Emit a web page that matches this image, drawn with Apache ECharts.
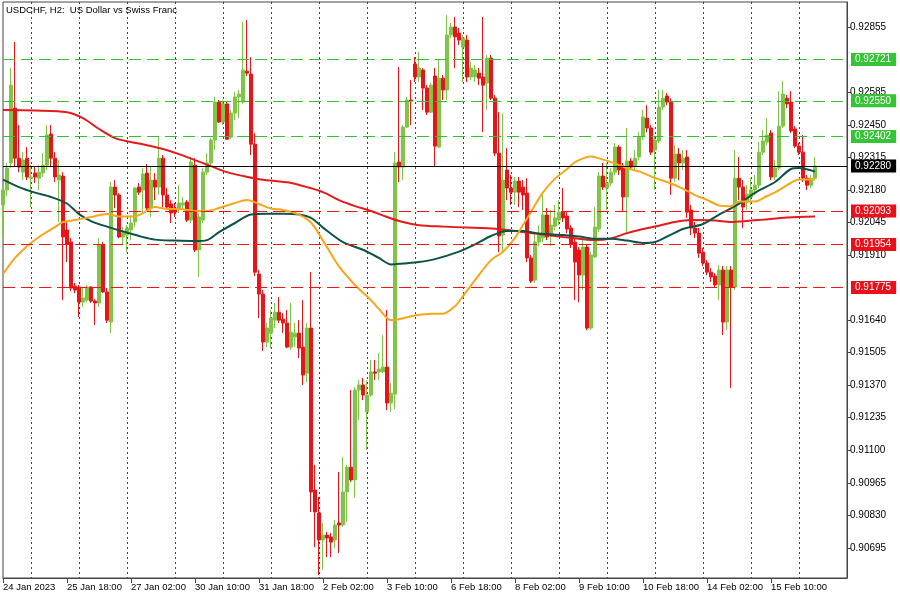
<!DOCTYPE html>
<html><head><meta charset="utf-8">
<script src="https://cdn.jsdelivr.net/npm/echarts@6/dist/echarts.min.js"></script>
<style>html,body{margin:0;padding:0;background:#fff;}#c{width:900px;height:600px;}</style>
</head><body><div id="c"></div>
<script>
const opens = [0.92118,0.92180,0.92292,0.92520,0.92312,0.92254,0.92312,0.92229,0.92250,0.92229,0.92250,0.92283,0.92412,0.92312,0.92221,0.92238,0.92014,0.91964,0.91781,0.91777,0.91715,0.91723,0.91777,0.91719,0.91711,0.91952,0.91757,0.91632,0.92192,0.92159,0.91985,0.91993,0.92014,0.92047,0.92192,0.92180,0.92250,0.92105,0.92221,0.92192,0.92312,0.92159,0.92122,0.92105,0.92105,0.92118,0.92130,0.92055,0.92283,0.91931,0.92055,0.92254,0.92292,0.92387,0.92545,0.92462,0.92537,0.92400,0.92499,0.92566,0.92545,0.92673,0.92661,0.92370,0.91831,0.91748,0.91549,0.91586,0.91640,0.91673,0.91644,0.91628,0.91528,0.91570,0.91586,0.91528,0.91420,0.91607,0.90935,0.90840,0.90728,0.90748,0.90740,0.90728,0.90798,0.90790,0.90927,0.91030,0.90977,0.91350,0.91371,0.91259,0.91329,0.91425,0.91425,0.91425,0.91445,0.91296,0.91333,0.92296,0.92275,0.92441,0.92553,0.92703,0.92649,0.92678,0.92603,0.92503,0.92653,0.92358,0.92644,0.92595,0.92823,0.92856,0.92831,0.92773,0.92802,0.92649,0.92649,0.92665,0.92649,0.92624,0.92727,0.92561,0.92333,0.91993,0.92263,0.92188,0.92171,0.92217,0.92192,0.92167,0.91898,0.91806,0.91964,0.91981,0.92076,0.91989,0.92030,0.92055,0.92088,0.92072,0.92022,0.91964,0.91931,0.91827,0.91943,0.91607,0.91902,0.92018,0.92238,0.92188,0.92209,0.92254,0.92358,0.92279,0.92151,0.92300,0.92279,0.92317,0.92400,0.92478,0.92437,0.92346,0.92383,0.92524,0.92570,0.92545,0.92229,0.92329,0.92292,0.92317,0.92097,0.92022,0.92001,0.91922,0.91877,0.91839,0.91823,0.91786,0.91848,0.91632,0.91848,0.91777,0.92229,0.92192,0.92130,0.92151,0.92180,0.92200,0.92337,0.92379,0.92416,0.92234,0.92271,0.92445,0.92561,0.92545,0.92433,0.92362,0.92337,0.92229,0.92200,0.92229];
const closes = [0.92180,0.92271,0.92615,0.92312,0.92275,0.92304,0.92234,0.92234,0.92234,0.92254,0.92283,0.92408,0.92312,0.92234,0.92242,0.91985,0.91956,0.91773,0.91765,0.91715,0.91732,0.91777,0.91719,0.91711,0.91952,0.91757,0.91640,0.92192,0.92159,0.91985,0.92001,0.92022,0.92043,0.92188,0.92171,0.92246,0.92105,0.92221,0.92192,0.92312,0.92159,0.92109,0.92084,0.92088,0.92126,0.92126,0.92055,0.92296,0.91931,0.92068,0.92254,0.92292,0.92387,0.92545,0.92462,0.92537,0.92391,0.92499,0.92566,0.92578,0.92678,0.92665,0.92370,0.91839,0.91748,0.91549,0.91607,0.91649,0.91673,0.91640,0.91628,0.91528,0.91590,0.91586,0.91524,0.91412,0.91607,0.90927,0.90844,0.90728,0.90748,0.90736,0.90719,0.90790,0.90790,0.90927,0.91030,0.90977,0.91350,0.91371,0.91329,0.91329,0.91425,0.91420,0.91437,0.91445,0.91296,0.91337,0.92292,0.92275,0.92441,0.92553,0.92549,0.92649,0.92686,0.92603,0.92503,0.92615,0.92362,0.92644,0.92595,0.92823,0.92856,0.92815,0.92802,0.92810,0.92649,0.92686,0.92678,0.92644,0.92615,0.92727,0.92561,0.92333,0.91989,0.92221,0.92188,0.92171,0.92217,0.92171,0.92159,0.91898,0.91802,0.91964,0.91993,0.92076,0.91985,0.92034,0.92064,0.92088,0.92064,0.92018,0.91956,0.91881,0.91827,0.91943,0.91607,0.91910,0.92026,0.92238,0.92192,0.92209,0.92254,0.92358,0.92263,0.92151,0.92300,0.92275,0.92312,0.92400,0.92483,0.92437,0.92337,0.92387,0.92524,0.92561,0.92545,0.92229,0.92329,0.92292,0.92312,0.92088,0.92022,0.92001,0.91918,0.91877,0.91839,0.91819,0.91786,0.91848,0.91632,0.91848,0.91777,0.92229,0.92192,0.92109,0.92163,0.92180,0.92200,0.92337,0.92383,0.92408,0.92234,0.92271,0.92445,0.92578,0.92537,0.92425,0.92362,0.92337,0.92229,0.92200,0.92229,0.92280];
const lows = [0.91981,0.92155,0.92271,0.92275,0.92254,0.92221,0.92221,0.92109,0.92209,0.92180,0.92234,0.92263,0.92275,0.92213,0.92047,0.91723,0.91881,0.91761,0.91752,0.91653,0.91694,0.91715,0.91711,0.91620,0.91694,0.91752,0.91628,0.91586,0.92105,0.91981,0.91952,0.91922,0.91972,0.92026,0.92159,0.92084,0.92097,0.92068,0.92138,0.92159,0.92109,0.92097,0.92043,0.92068,0.92084,0.92097,0.92047,0.92043,0.91922,0.91819,0.92043,0.92242,0.92283,0.92346,0.92458,0.92449,0.92387,0.92391,0.92470,0.92478,0.92537,0.92653,0.92325,0.91823,0.91649,0.91512,0.91528,0.91524,0.91607,0.91628,0.91586,0.91524,0.91516,0.91528,0.91483,0.91371,0.91383,0.90844,0.90698,0.90582,0.90603,0.90657,0.90657,0.90694,0.90674,0.90782,0.90802,0.90968,0.90902,0.91225,0.91308,0.91101,0.91321,0.91391,0.91391,0.91420,0.91267,0.91259,0.91271,0.92213,0.92221,0.92437,0.92449,0.92628,0.92628,0.92512,0.92491,0.92499,0.92279,0.92354,0.92553,0.92553,0.92810,0.92686,0.92781,0.92628,0.92628,0.92636,0.92628,0.92615,0.92420,0.92512,0.92553,0.92321,0.91922,0.91922,0.92138,0.92118,0.92118,0.92109,0.92097,0.91881,0.91794,0.91794,0.91947,0.91964,0.91972,0.91947,0.92014,0.92034,0.92047,0.92001,0.91939,0.91723,0.91715,0.91765,0.91599,0.91599,0.91898,0.92005,0.92180,0.92097,0.92196,0.92242,0.92242,0.92088,0.92001,0.92263,0.92263,0.92304,0.92387,0.92420,0.92325,0.92180,0.92375,0.92512,0.92532,0.92159,0.92213,0.92221,0.92263,0.92064,0.91993,0.91981,0.91898,0.91864,0.91827,0.91798,0.91773,0.91723,0.91578,0.91599,0.91358,0.91765,0.92138,0.92022,0.92097,0.92118,0.92159,0.92188,0.92325,0.92366,0.92221,0.92221,0.92263,0.92437,0.92520,0.92416,0.92354,0.92325,0.92213,0.92180,0.92188,0.92221];
const highs = [0.92192,0.92292,0.92686,0.92794,0.92449,0.92337,0.92358,0.92283,0.92275,0.92283,0.92333,0.92449,0.92449,0.92337,0.92304,0.92254,0.92047,0.91981,0.91794,0.91786,0.91777,0.91786,0.91781,0.91727,0.91981,0.91964,0.91773,0.92213,0.92221,0.92167,0.92026,0.92034,0.92076,0.92192,0.92209,0.92271,0.92288,0.92275,0.92250,0.92400,0.92325,0.92188,0.92138,0.92126,0.92200,0.92151,0.92138,0.92317,0.92312,0.92084,0.92271,0.92333,0.92395,0.92566,0.92553,0.92553,0.92545,0.92512,0.92586,0.92595,0.92877,0.92885,0.92731,0.92416,0.91848,0.91765,0.91628,0.91682,0.91711,0.91736,0.91669,0.91682,0.91711,0.91628,0.91640,0.91723,0.91628,0.91839,0.91039,0.90906,0.90798,0.90761,0.90757,0.90811,0.91010,0.91072,0.91039,0.91350,0.91362,0.91391,0.91400,0.91391,0.91474,0.91474,0.91503,0.91578,0.91682,0.91379,0.92337,0.92690,0.92449,0.92566,0.92636,0.92731,0.92752,0.92686,0.92615,0.92624,0.92686,0.92719,0.92657,0.92906,0.92873,0.92898,0.92852,0.92823,0.92823,0.92711,0.92698,0.92686,0.92898,0.92740,0.92740,0.92574,0.92503,0.92499,0.92354,0.92242,0.92234,0.92234,0.92221,0.92229,0.91910,0.92005,0.92034,0.92171,0.92105,0.92097,0.92118,0.92138,0.92188,0.92088,0.92034,0.91981,0.91943,0.91972,0.91956,0.91922,0.92109,0.92254,0.92292,0.92292,0.92271,0.92375,0.92366,0.92292,0.92437,0.92312,0.92346,0.92420,0.92512,0.92532,0.92449,0.92400,0.92595,0.92595,0.92582,0.92561,0.92366,0.92354,0.92346,0.92346,0.92118,0.92047,0.92022,0.91939,0.91889,0.91856,0.91835,0.91869,0.91864,0.91864,0.91864,0.92346,0.92317,0.92221,0.92200,0.92229,0.92242,0.92379,0.92429,0.92478,0.92429,0.92304,0.92590,0.92632,0.92574,0.92590,0.92445,0.92375,0.92408,0.92242,0.92242,0.92317];

// moving averages: [bar index, value]
const maSlow = [[0,0.92512],[8,0.92510],[16,0.92503],[20,0.92478],[24,0.92433],[28,0.92395],[32,0.92379],[36,0.92366],[40,0.92350],[44,0.92329],[48,0.92304],[52,0.92279],[56,0.92254],[60,0.92238],[64,0.92225],[68,0.92217],[72,0.92209],[76,0.92192],[80,0.92171],[84,0.92138],[88,0.92113],[92,0.92093],[96,0.92068],[100,0.92047],[104,0.92034],[110,0.92028],[116,0.92024],[122,0.92020],[128,0.92010],[134,0.91997],[140,0.91985],[144,0.91978],[148,0.91972],[152,0.91979],[156,0.92001],[160,0.92018],[164,0.92032],[168,0.92047],[172,0.92055],[178,0.92053],[182,0.92047],[186,0.92051],[190,0.92057],[196,0.92066],[203,0.92070]];
const maMid = [[0,0.92223],[4,0.92192],[8,0.92169],[12,0.92151],[16,0.92124],[19,0.92080],[22,0.92051],[26,0.92028],[30,0.92008],[34,0.91989],[38,0.91974],[43,0.91970],[48,0.91968],[51,0.91972],[54,0.92005],[58,0.92043],[62,0.92078],[66,0.92081],[70,0.92081],[74,0.92078],[77,0.92064],[80,0.92024],[85,0.91964],[90,0.91932],[94,0.91898],[97,0.91871],[100,0.91875],[104,0.91881],[108,0.91893],[114,0.91924],[118,0.91954],[122,0.91989],[126,0.92010],[130,0.92010],[134,0.91999],[140,0.91993],[144,0.91987],[148,0.91978],[152,0.91978],[156,0.91970],[160,0.91960],[163,0.91964],[167,0.91995],[170,0.92018],[175,0.92039],[179,0.92078],[183,0.92113],[186,0.92146],[189,0.92178],[193,0.92213],[197,0.92267],[199,0.92271],[203,0.92256]];
const maFast = [[0,0.91831],[3,0.91898],[6,0.91947],[9,0.91985],[13,0.92026],[15,0.92047],[18,0.92055],[22,0.92068],[26,0.92080],[29,0.92070],[33,0.92070],[35,0.92084],[38,0.92109],[41,0.92101],[44,0.92101],[48,0.92093],[51,0.92093],[54,0.92105],[58,0.92126],[61,0.92138],[64,0.92122],[67,0.92103],[70,0.92097],[74,0.92078],[77,0.92045],[80,0.91970],[84,0.91863],[88,0.91786],[92,0.91723],[94,0.91686],[97,0.91640],[99,0.91644],[103,0.91659],[107,0.91666],[110,0.91666],[113,0.91698],[115,0.91740],[118,0.91806],[122,0.91889],[125,0.91924],[128,0.91981],[131,0.92062],[135,0.92170],[138,0.92227],[141,0.92267],[143,0.92296],[147,0.92319],[149,0.92311],[153,0.92290],[156,0.92270],[159,0.92257],[163,0.92230],[166,0.92213],[169,0.92193],[173,0.92159],[176,0.92139],[179,0.92116],[182,0.92113],[184,0.92132],[188,0.92132],[191,0.92155],[193,0.92170],[196,0.92200],[199,0.92224],[203,0.92224]];

const levelsGreen = [0.92721, 0.92550, 0.92402];
const levelsRed = [0.92093, 0.91954, 0.91775];
const lastPrice = 0.92280;
const yTickValues = [0.92855,0.92585,0.92450,0.92315,0.92180,0.92045,0.91910,0.91640,0.91505,0.91370,0.91235,0.91100,0.90965,0.90830,0.90695];
const xTickLabels = ['24 Jan 2023','25 Jan 18:00','27 Jan 02:00','30 Jan 10:00','31 Jan 18:00','2 Feb 02:00','3 Feb 10:00','6 Feb 18:00','8 Feb 02:00','9 Feb 10:00','10 Feb 18:00','14 Feb 02:00','15 Feb 10:00'];

const TOTAL_SLOTS = 212;
const LABEL_STEP = 16;
const months = ['Jan','Feb','Mar','Apr','May','Jun','Jul','Aug','Sep','Oct','Nov','Dec'];
const categories = [];
let t = Date.UTC(2023, 0, 24, 10);
while (categories.length < TOTAL_SLOTS) {
  const d = new Date(t);
  const wd = d.getUTCDay();
  if (wd !== 0 && wd !== 6) {
    const hh = String(d.getUTCHours()).padStart(2, '0');
    categories.push(d.getUTCDate() + ' ' + months[d.getUTCMonth()] + ' ' + hh + ':00');
  }
  t += 2 * 3600 * 1000;
}

const candles = opens.map((o, i) => [o, closes[i], lows[i], highs[i]]);
const FONT = '"Liberation Sans", Arial, sans-serif';
const GREEN = '#80c448', RED = '#e8141a';

function lvl(v, lineColor, bg, dash) {
  return {
    yAxis: v,
    lineStyle: { color: lineColor, type: dash, width: 1, opacity: 1 },
    label: { show: true, position: 'end', formatter: v.toFixed(5), color: '#fff',
      backgroundColor: bg, padding: [2, 5, 1, 4], fontSize: 10, fontFamily: FONT, distance: 4 }
  };
}
const showLabel = (i) => i % LABEL_STEP === 0 && (i / LABEL_STEP) < xTickLabels.length;

const chart = echarts.init(document.getElementById('c'), null, { renderer: 'canvas' });
chart.setOption({
  animation: false,
  backgroundColor: '#fff',
  title: { text: 'USDCHF, H2:  US Dollar vs Swiss Franc', left: 6, top: 5, padding: 0,
    textStyle: { fontSize: 9.5, fontWeight: 'normal', color: '#000', fontFamily: FONT } },
  grid: { left: 3, right: 53, top: 2, bottom: 22, show: true, borderColor: '#444', borderWidth: 1 },
  xAxis: {
    type: 'category', data: categories, boundaryGap: false,
    axisLine: { show: true, lineStyle: { color: '#444' } },
    axisTick: { show: true, interval: showLabel, length: 5, lineStyle: { color: '#444' } },
    axisLabel: { interval: showLabel, formatter: (v, i) => xTickLabels[i / LABEL_STEP], align: 'left',
      margin: 4, fontSize: 9.5, color: '#000', fontFamily: FONT },
    splitLine: { show: true, interval: (i) => i % 12 === 7, lineStyle: { color: '#444', type: [2, 3], width: 1 } }
  },
  yAxis: {
    type: 'value', position: 'right', min: 0.90570, max: 0.92960,
    axisLine: { show: true, lineStyle: { color: '#444' } },
    axisTick: { show: true, customValues: yTickValues, length: 4, lineStyle: { color: '#444' } },
    axisLabel: { customValues: yTickValues, formatter: (v) => v.toFixed(5), fontSize: 10, color: '#000',
      margin: 3, fontFamily: FONT },
    splitLine: { show: false }
  },
  series: [
    {
      type: 'candlestick', data: candles, barWidth: 3, z: 2,
      itemStyle: { color: GREEN, color0: RED, borderColor: GREEN, borderColor0: RED, borderWidth: 1 }
    },
    { type: 'line', data: maSlow, showSymbol: false, smooth: 0.3, z: 3, lineStyle: { color: '#e41a1c', width: 2 } },
    { type: 'line', data: maMid, showSymbol: false, smooth: 0.3, z: 3, lineStyle: { color: '#0e5248', width: 2 } },
    { type: 'line', data: maFast, showSymbol: false, smooth: 0.3, z: 3, lineStyle: { color: '#f7a71b', width: 2 } },
    {
      type: 'line', data: [], z: 4, silent: true, color: '#2db82d',
      markLine: {
        symbol: ['none', 'none'], silent: true, animation: false, precision: 5,
        emphasis: { disabled: true },
        data: [
          ...levelsGreen.map(v => lvl(v, '#2ec42e', '#35c435', [12, 6])),
          ...levelsRed.map(v => lvl(v, '#ff1010', '#e8101a', [12, 6])),
          lvl(lastPrice, '#000', '#000', 'solid')
        ]
      }
    }
  ]
});
</script></body></html>
